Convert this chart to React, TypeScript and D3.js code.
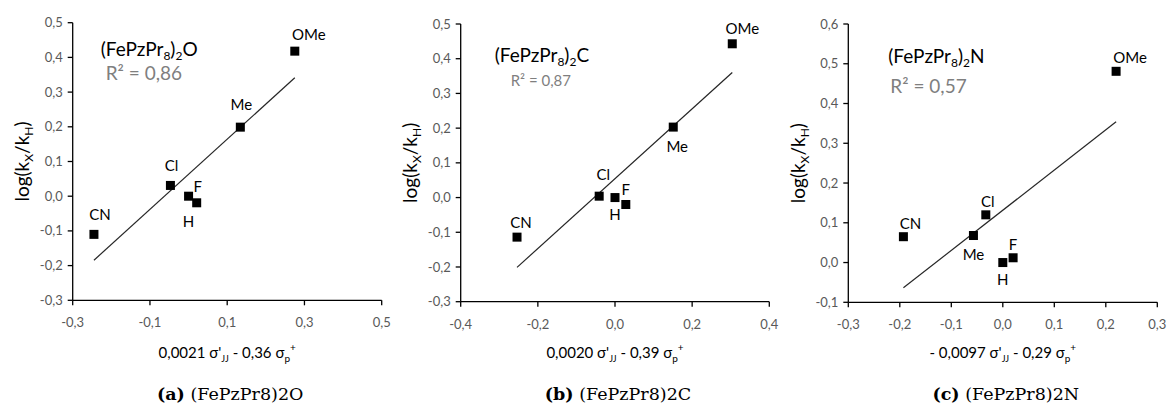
import React from "react";
import * as d3 from "d3";

// ---------- data ----------
const substituents = ["CN", "Cl", "H", "F", "Me", "OMe"];

const sigmaO = [-0.245, -0.047, 0.0, 0.021, 0.134, 0.275];
const logkO = [-0.11, 0.031, 0.0, -0.019, 0.199, 0.418];

const sigmaC = [-0.254, -0.041, 0.0, 0.028, 0.151, 0.304];
const logkC = [-0.114, 0.004, 0.0, -0.02, 0.203, 0.443];

const sigmaN = [-0.193, -0.033, 0.0, 0.02, -0.057, 0.22];
const logkN = [0.065, 0.12, 0.0, 0.012, 0.068, 0.481];

const xTicksO = [-0.3, -0.1, 0.1, 0.3, 0.5];
const yTicksO = [-0.3, -0.2, -0.1, 0, 0.1, 0.2, 0.3, 0.4, 0.5];
const xTicksC = [-0.4, -0.2, 0, 0.2, 0.4];
const yTicksC = [-0.3, -0.2, -0.1, 0, 0.1, 0.2, 0.3, 0.4, 0.5];
const xTicksN = [-0.3, -0.2, -0.1, 0, 0.1, 0.2, 0.3];
const yTicksN = [-0.1, 0, 0.1, 0.2, 0.3, 0.4, 0.5, 0.6];

const r2Labels = ["R² = 0,86", "R² = 0,87", "R² = 0,57"];
const complexSuffix = ["O", "C", "N"];
const xTitleCoef = [
  ["0,0021", "0,36"],
  ["0,0020", "0,39"],
  ["- 0,0097", "0,29"],
];
const captionLetters = ["(a)", "(b)", "(c)"];

// label nudges (px) in substituent order: CN, Cl, H, F, Me, OMe
const nudgeO = [[6, -14], [1, -14], [0, 31], [1, -11], [1, -17], [14, -11]];
const nudgeC = [[4, -9], [4, -16], [0, 22], [0, -10], [4, 25], [10, -10]];
const nudgeN = [[7, -8], [2, -8], [0, 22], [0, -8], [0, 24], [14, -8]];

// ---------- layout ----------
const W = 1168;
const H = 408;
const FONT = "Lato, 'Open Sans', sans-serif";
const SERIF = "'DejaVu Serif', 'Liberation Serif', serif";

const locale = d3.formatLocale({
  decimal: ",",
  thousands: ".",
  grouping: [3],
  currency: ["", ""],
  minus: "-",
});
const fmt = locale.format(".1f");

type Panel = {
  xs: number[];
  ys: number[];
  xDomain: [number, number];
  yDomain: [number, number];
  xTicks: number[];
  yTicks: number[];
  left: number;
  right: number;
  top: number;
  bottom: number;
  nudge: number[][];
  title: [number, number];
  r2: [number, number];
  r2Size: number;
};

const panels: Panel[] = [
  {
    xs: sigmaO, ys: logkO, xDomain: [-0.3, 0.5], yDomain: [-0.3, 0.5],
    xTicks: xTicksO, yTicks: yTicksO,
    left: 72.7, right: 381.7, top: 22.7, bottom: 300.3,
    nudge: nudgeO, title: [28, 33], r2: [33, 57], r2Size: 19,
  },
  {
    xs: sigmaC, ys: logkC, xDomain: [-0.4, 0.4], yDomain: [-0.3, 0.5],
    xTicks: xTicksC, yTicks: yTicksC,
    left: 460.7, right: 769.3, top: 24, bottom: 301.7,
    nudge: nudgeC, title: [34, 38], r2: [50, 62], r2Size: 15,
  },
  {
    xs: sigmaN, ys: logkN, xDomain: [-0.3, 0.3], yDomain: [-0.1, 0.6],
    xTicks: xTicksN, yTicks: yTicksN,
    left: 848.3, right: 1157.3, top: 24, bottom: 302.3,
    nudge: nudgeN, title: [40, 39], r2: [42, 69], r2Size: 19,
  },
];

function regression(xs: number[], ys: number[]) {
  const mx = d3.mean(xs) as number;
  const my = d3.mean(ys) as number;
  const sxy = d3.sum(xs, (x, i) => (x - mx) * (ys[i] - my));
  const sxx = d3.sum(xs, (x) => (x - mx) * (x - mx));
  const slope = sxy / sxx;
  return { slope, intercept: my - slope * mx };
}

function PanelChart({ p, idx }: { p: Panel; idx: number }) {
  const x = d3.scaleLinear().domain(p.xDomain).range([p.left, p.right]);
  const y = d3.scaleLinear().domain(p.yDomain).range([p.bottom, p.top]);
  const { slope, intercept } = regression(p.xs, p.ys);
  const [x0, x1] = d3.extent(p.xs) as [number, number];
  const line = d3.line<number>().x((v) => x(v)).y((v) => y(slope * v + intercept));
  const cx = (p.left + p.right) / 2;
  const cy = (p.top + p.bottom) / 2;
  const sq = 9;
  return (
    <g>
      {/* axes */}
      <line x1={p.left} x2={p.right} y1={p.bottom} y2={p.bottom} stroke="#000" strokeWidth={1.3} />
      <line x1={p.left} x2={p.left} y1={p.top} y2={p.bottom} stroke="#000" strokeWidth={1.3} />
      {p.xTicks.map((t) => (
        <g key={"xt" + t}>
          <line x1={x(t)} x2={x(t)} y1={p.bottom} y2={p.bottom + 5} stroke="#000" strokeWidth={1.3} />
          <text x={x(t)} y={p.bottom + 27} textAnchor="middle" fontSize={13} fill="#595959" fontFamily={FONT}>
            {fmt(t)}
          </text>
        </g>
      ))}
      {p.yTicks.map((t) => (
        <g key={"yt" + t}>
          <line x1={p.left - 5} x2={p.left} y1={y(t)} y2={y(t)} stroke="#000" strokeWidth={1.3} />
          <text x={p.left - 10} y={y(t)} dy="0.35em" textAnchor="end" fontSize={13} fill="#595959" fontFamily={FONT}>
            {fmt(t)}
          </text>
        </g>
      ))}
      {/* trendline */}
      <path d={line([x0, x1]) as string} stroke="#262626" strokeWidth={1.2} fill="none" />
      {/* points */}
      {p.xs.map((v, i) => (
        <rect key={"pt" + i} x={x(v) - sq / 2} y={y(p.ys[i]) - sq / 2} width={sq} height={sq} fill="#000" />
      ))}
      {p.xs.map((v, i) => (
        <text
          key={"lb" + i}
          x={x(v) + p.nudge[i][0]}
          y={y(p.ys[i]) + p.nudge[i][1]}
          textAnchor="middle"
          fontSize={15}
          fill="#000"
          fontFamily={FONT}
        >
          {substituents[i]}
        </text>
      ))}
      {/* annotation */}
      <text x={p.left + p.title[0]} y={p.top + p.title[1]} fontSize={19} fill="#000" fontFamily={FONT}>
        (FePzPr<tspan fontSize={12} dy={4}>8</tspan>
        <tspan dy={-4}>)</tspan>
        <tspan fontSize={12} dy={4}>2</tspan>
        <tspan dy={-4}>{complexSuffix[idx]}</tspan>
      </text>
      <text x={p.left + p.r2[0]} y={p.top + p.r2[1]} fontSize={p.r2Size} fill="#7f7f7f" fontFamily={FONT}>
        {r2Labels[idx]}
      </text>
      {/* y title */}
      <text
        transform={`translate(${p.left - 50},${cy}) rotate(-90)`}
        textAnchor="middle"
        dy="0.35em"
        fontSize={19}
        fill="#000"
        fontFamily={FONT}
      >
        log(k<tspan fontSize={12} dy={4}>X</tspan>
        <tspan dy={-4}>/k</tspan>
        <tspan fontSize={12} dy={4}>H</tspan>
        <tspan dy={-4}>)</tspan>
      </text>
      {/* x title */}
      <text x={cx} y={358} textAnchor="middle" fontSize={15} fill="#000" fontFamily={FONT}>
        {xTitleCoef[idx][0]} σ'<tspan fontSize={9} dy={4}>JJ</tspan>
        <tspan dy={-4}> - {xTitleCoef[idx][1]} σ</tspan>
        <tspan fontSize={10} dy={4}>p</tspan>
        <tspan fontSize={10} dy={-11}>+</tspan>
      </text>
      {/* caption */}
      <text x={cx + 3} y={400} textAnchor="middle" fontSize={17.5} fill="#000" fontFamily={SERIF}>
        <tspan fontWeight="bold">{captionLetters[idx]}</tspan> (FePzPr8)2{complexSuffix[idx]}
      </text>
    </g>
  );
}

export default function App() {
  return (
    <svg
      width={W}
      height={H}
      viewBox={`0 0 ${W} ${H}`}
      style={{ position: "absolute", left: 0, top: 0, background: "#fff" }}
    >
      <rect x={0} y={0} width={W} height={H} fill="#fff" />
      {panels.map((p, i) => (
        <PanelChart key={i} p={p} idx={i} />
      ))}
    </svg>
  );
}
